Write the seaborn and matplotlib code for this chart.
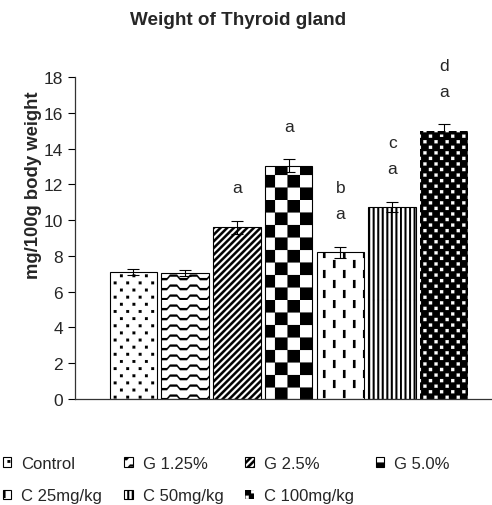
import warnings
import numpy as np
import pandas as pd
import matplotlib
matplotlib.use("Agg")
import matplotlib.pyplot as plt
import matplotlib.hatch as mhatch
from matplotlib.path import Path
import seaborn as sns

warnings.filterwarnings("ignore")

# data
groups = ["Control", "G 1.25%", "G 2.5%", "G 5.0%", "C 25mg/kg", "C 50mg/kg", "C 100mg/kg"]
weights = [7.1, 7.03, 9.6, 13.04, 8.2, 10.75, 15.0]
sem = [0.18, 0.18, 0.35, 0.37, 0.3, 0.28, 0.35]
sig_low = ["", "", "a", "a", "a", "a", "a"]
sig_high = ["", "", "", "", "b", "c", "d"]
yticks = [0, 2, 4, 6, 8, 10, 12, 14, 16, 18]


# ---- custom fill patterns (excel style) ----
def rect(x, y, w, h):
    return [(x, y), (x + w, y), (x + w, y + h), (x, y + h)]


def dots(n, m, s):
    out = []
    w, h = 1 / n, 1 / m
    for i in range(n):
        for j in range(m):
            out.append(rect(i * w + 0.1 * w, j * h + 0.1 * h, s, s))
            out.append(rect(i * w + 0.6 * w, j * h + 0.6 * h, s, s))
    return out


def wave():
    out = []
    t = 0.022
    for j in range(10):
        y0 = j * 0.1 + 0.02
        pts = []
        for k in range(5):
            x0 = k * 0.2
            pts += [(x0, y0), (x0 + 0.07, y0), (x0 + 0.1, y0 + 0.035), (x0 + 0.17, y0 + 0.035)]
        pts.append((1.0, y0))
        low = [(x, y - t) for x, y in pts[::-1]]
        out.append(pts + low)
    return out


def stripes():
    out = []
    p, w = 1 / 15, 0.034
    for k in range(-16, 17):
        c = k * p
        out.append([(c - 0.1, -0.1), (c + 1.1, 1.1), (c + w + 1.1, 1.1), (c + w - 0.1, -0.1)])
    return out


def checker():
    s = 0.125
    return [rect(i * s, j * s, s, s) for i in range(8) for j in range(8) if (i + j) % 2 == 0]


def dashes():
    out = []
    w = 0.2
    for i in range(5):
        for j in range(5):
            out.append(rect(i * w + 0.03, j * w + 0.02, 0.025, 0.08))
            out.append(rect(i * w + 0.13, j * w + 0.12, 0.025, 0.08))
    return out


def vlines():
    return [rect(i / 22, 0, 0.019, 1) for i in range(22)]


TILES = {"p": dots(8, 7, 0.028), "w": wave(), "s": stripes(), "k": checker(),
         "d": dashes(), "v": vlines(), "q": dots(9, 9, 0.032)}


class TileHatch(mhatch.HatchPatternBase):
    def __init__(self, hatch, density):
        self.polys = TILES.get(hatch[:1], []) if hatch else []
        self.num_vertices = sum(len(p) + 1 for p in self.polys)

    def set_vertices_and_codes(self, vertices, codes):
        i = 0
        for p in self.polys:
            n = len(p)
            vertices[i:i + n] = p
            vertices[i + n] = p[0]
            codes[i] = Path.MOVETO
            codes[i + 1:i + n] = Path.LINETO
            codes[i + n] = Path.CLOSEPOLY
            i += n + 1


mhatch._hatch_types.append(TileHatch)
hatches = ["p", "w", "s", "k", "d", "v", "q"]

sns.set_style("white")
plt.rcParams["font.family"] = ["Liberation Sans", "DejaVu Sans"]
plt.rcParams["hatch.linewidth"] = 0.1

df = pd.DataFrame({"group": groups, "weight": weights})

fig = plt.figure(figsize=(4.92, 5.06), dpi=100)
ax = fig.add_axes([75 / 492, 1 - 400 / 506, 1 - 75 / 492, 322 / 506])

sns.barplot(data=df, x="group", y="weight", hue="group", order=groups, hue_order=groups,
            palette=["white"] * len(groups), dodge=False, width=0.918, legend=False, ax=ax)

bars = [c.patches[0] for c in ax.containers]
for bar, h in zip(bars, hatches):
    bar.set_hatch(h)
    if h == "q":
        bar.set_facecolor("black")
        bar.set_edgecolor("white")
        bar.set_linewidth(0)
    else:
        bar.set_facecolor("white")
        bar.set_edgecolor("black")
        bar.set_linewidth(0.8)

ax.errorbar(x=np.arange(len(groups)), y=weights, yerr=sem, fmt="none", ecolor="black",
            elinewidth=0.8, capsize=4, capthick=0.8, zorder=5)

for i, (lo, hi) in enumerate(zip(sig_low, sig_high)):
    top = weights[i] + sem[i]
    if lo:
        ax.text(i, top + 1.85, lo, ha="center", va="center", fontsize=12.5, clip_on=False)
    if hi:
        ax.text(i, top + 3.3, hi, ha="center", va="center", fontsize=12.5, clip_on=False)

ax.set_xlim(-1.13, 6.93)
ax.set_ylim(0, 18)
ax.set_yticks(yticks)
ax.set_xticks([])
ax.set_xlabel("")
ax.set_ylabel("")
ax.tick_params(axis="y", length=5, width=0.8, direction="out", pad=3.5, labelsize=12.5,
               left=True, color="black")
sns.despine(ax=ax)
for s in ["left", "bottom"]:
    ax.spines[s].set_color("#333333")
    ax.spines[s].set_linewidth(0.9)

fig.text(238 / 492, 1 - 25 / 506, "Weight of Thyroid gland", ha="center", va="baseline",
         fontsize=13.6, fontweight="bold")
fig.text(34 / 492, 1 - 185 / 506, "mg/100g body weight", rotation=90, ha="center",
         va="center", fontsize=13.3, fontweight="bold")

# legend laid out row by row like the original
order = [0, 4, 1, 5, 2, 6, 3]
leg = fig.legend([bars[i] for i in order], [groups[i] for i in order], ncol=4,
                 loc="upper left", bbox_to_anchor=(3 / 492, 1 - 457 / 506), frameon=False,
                 fontsize=12, handlelength=0.5, handleheight=0.5, handletextpad=0.6,
                 columnspacing=1.32, labelspacing=1.05, borderpad=0, borderaxespad=0)

fig.savefig("out.png", dpi=100)
